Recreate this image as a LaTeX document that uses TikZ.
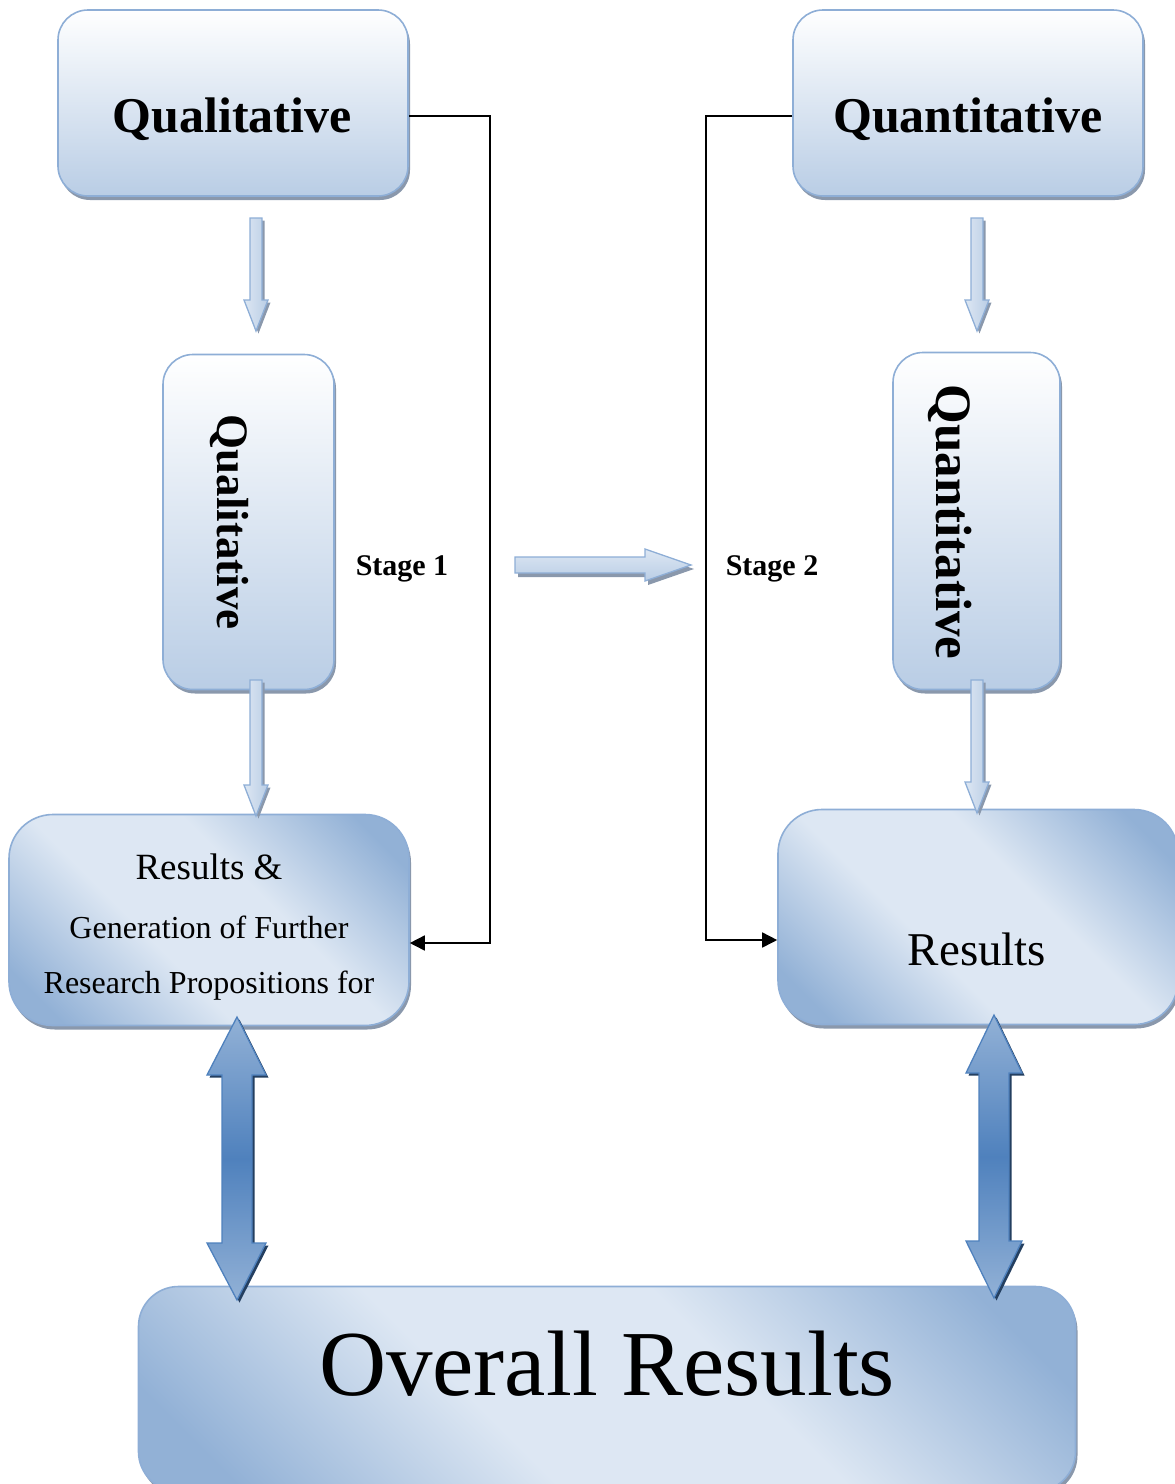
\documentclass[tikz,border=0pt]{standalone}
\usepackage{fontspec}
\setmainfont{Liberation Serif}
\usetikzlibrary{arrows.meta,shadows}

\definecolor{edgeblue}{RGB}{142,174,214}
\definecolor{paleblue}{RGB}{221,231,243}
\definecolor{midblue}{RGB}{185,205,229}
\definecolor{deepblue}{RGB}{146,177,214}
\definecolor{strongblue}{RGB}{79,129,189}
\definecolor{shadowgray}{RGB}{138,152,172}
\definecolor{navyshade}{RGB}{36,63,96}

% diagonal band: dark corners, pale stripe through the middle
\pgfdeclarehorizontalshading{diagband}{100bp}{%
  color(0bp)=(deepblue); color(21bp)=(deepblue); color(41bp)=(paleblue);
  color(59bp)=(paleblue); color(79bp)=(deepblue); color(100bp)=(deepblue)}

\begin{document}
\begin{tikzpicture}[x=1pt,y=-1pt,
  boxshadow/.style={drop shadow={shadow xshift=2pt,shadow yshift=-4pt,fill=shadowgray,opacity=1}},
  titlebox/.style={draw=edgeblue,line width=1.6pt,rounded corners=30pt,inner sep=0pt,
    top color=white,bottom color=midblue,boxshadow},
  resultbox/.style={draw=edgeblue,line width=1.6pt,rounded corners=44pt,inner sep=0pt,
    shading=diagband,shading angle=45,boxshadow},
  thinarrow/.style={draw=edgeblue,line width=1.3pt,left color=paleblue,right color=midblue,
    drop shadow={shadow xshift=2.5pt,shadow yshift=-2.5pt,fill=shadowgray,opacity=1}},
  hthinarrow/.style={draw=edgeblue,line width=1.3pt,top color=paleblue,bottom color=midblue,
    drop shadow={shadow xshift=3pt,shadow yshift=-4pt,fill=shadowgray,opacity=1}},
  bigarrow/.style={draw=strongblue,line width=1.3pt,top color=deepblue,bottom color=deepblue,
    middle color=strongblue,
    drop shadow={shadow xshift=2.5pt,shadow yshift=-2.5pt,fill=navyshade,opacity=1}},
  headtext/.style={font=\bfseries\fontsize{50}{60}\selectfont},
  link/.style={line width=1.6pt,-{Triangle[length=15pt,width=15pt]}},
  stagetext/.style={font=\bfseries\fontsize{30}{36}\selectfont}
]
\useasboundingbox (0,0) rectangle (1175,1484);

% boxes
\node[titlebox,minimum width=350pt,minimum height=186pt] (q1) at (233,103) {};
\node[titlebox,minimum width=350pt,minimum height=186pt] (q2) at (968,103) {};
\node[titlebox,minimum width=171pt,minimum height=335pt] (v1) at (248.5,522) {};
\node[titlebox,minimum width=167pt,minimum height=337pt] (v2) at (976.5,521) {};
\node[resultbox,minimum width=400pt,minimum height=211pt] (r1) at (209,920) {};
\node[resultbox,minimum width=400pt,minimum height=215pt] (r2) at (978,917) {};
\node[resultbox,rounded corners=40pt,minimum width=937pt,minimum height=205pt] (ov) at (607,1389) {};

% box texts
\node[headtext] (q1t) at (232,119) {Qualitative};
\node[headtext] (q2t) at (968,119) {Quantitative};
\node[font=\bfseries\fontsize{45}{54}\selectfont,rotate=-90] (v1t) at (229,522) {Qualitative};
\node[font=\bfseries\fontsize{51}{60}\selectfont,rotate=-90] (v2t) at (950,522) {Quantitative};
\node[anchor=base,font=\fontsize{37}{44}\selectfont] (r1a) at (209,879) {Results \&};
\node[anchor=base,font=\fontsize{32}{38}\selectfont] (r1b) at (209,938) {Generation of Further};
\node[anchor=base,font=\fontsize{32}{38}\selectfont] (r1c) at (209,993) {Research Propositions for};
\node[anchor=base,font=\fontsize{47}{56}\selectfont] (r2t) at (977,965) {Results};
\node[anchor=base,font=\fontsize{93}{110}\selectfont] (ovt) at (607,1395) {Overall Results};

% stage labels
\node[stagetext] (s1) at (402,569) {Stage 1};
\node[stagetext] (s2) at (772,569) {Stage 2};

% thin block arrows
\path[thinarrow] (250,218) -- (262,218) -- (262,300) -- (268,300) -- (256,331)
  -- (244,300) -- (250,300) -- cycle;
\path[thinarrow] (250,680) -- (262,680) -- (262,785) -- (268,785) -- (256,816)
  -- (244,785) -- (250,785) -- cycle;
\path[thinarrow] (971,218) -- (983,218) -- (983,300) -- (989,300) -- (977,331)
  -- (965,300) -- (971,300) -- cycle;
\path[thinarrow] (971,680) -- (983,680) -- (983,782) -- (989,782) -- (977,813)
  -- (965,782) -- (971,782) -- cycle;
\path[hthinarrow] (515,557) -- (645,557) -- (645,549) -- (691,565) -- (645,581)
  -- (645,573) -- (515,573) -- cycle;

% double block arrows
\path[bigarrow] (237,1017) -- (266,1075) -- (252,1075) -- (252,1243) -- (266,1243)
  -- (237,1300) -- (207,1243) -- (222,1243) -- (222,1075) -- (207,1075) -- cycle;
\path[bigarrow] (994,1015) -- (1022,1073) -- (1009,1073) -- (1009,1241) -- (1022,1241)
  -- (994,1298) -- (966,1241) -- (979,1241) -- (979,1073) -- (966,1073) -- cycle;

% feedback connectors
\coordinate (kl) at (490,116);
\coordinate (kld) at (490,943);
\coordinate (kr) at (706,116);
\coordinate (krd) at (706,940);
\draw[link] (q1.east |- kl) -- (kl) -- (kld) -- (r1.east |- kld);
\draw[link] (q2.west |- kr) -- (kr) -- (krd) -- (r2.west |- krd);
\end{tikzpicture}
\end{document}
